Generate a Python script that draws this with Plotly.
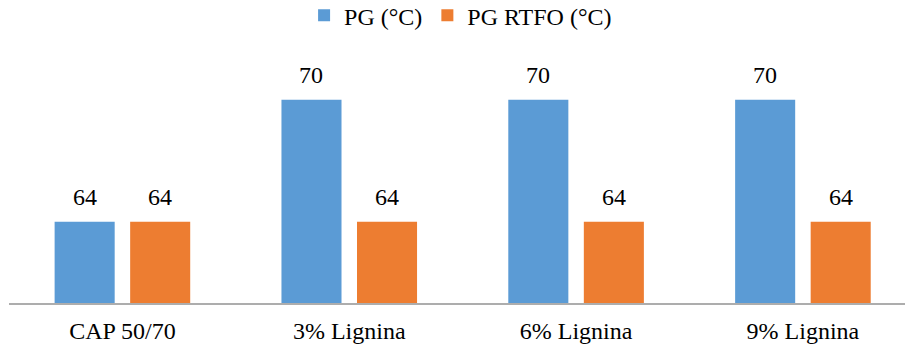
import plotly.graph_objects as go

# Performance grade of the binders
categories = ["CAP 50/70", "3% Lignina", "6% Lignina", "9% Lignina"]
pg_values = [64, 70, 70, 70]
pg_rtfo_values = [64, 64, 64, 64]
series_names = ["PG (°C)", "PG RTFO (°C)"]

FONT = "Liberation Serif, Times New Roman, serif"
colors = ["#5B9BD5", "#ED7D31"]
series = [pg_values, pg_rtfo_values]

fig = go.Figure()
for name, vals, col in zip(series_names, series, colors):
    fig.add_trace(go.Bar(
        x=categories, y=vals, name=name,
        marker=dict(color=col, line=dict(width=0)),
    ))

# value labels above each bar
bargap, groupgap = 0.334, 0.205
slot = (1 - bargap) / len(series)
for k, vals in enumerate(series):
    off = -(1 - bargap) / 2 + slot * (k + 0.5)
    for i, v in enumerate(vals):
        fig.add_annotation(
            x=i + off, y=v, xref="x", yref="y",
            text=str(v), showarrow=False,
            yanchor="bottom", yshift=10,
            font=dict(family=FONT, size=24, color="#000000"),
        )

fig.update_layout(
    width=905, height=349,
    margin=dict(l=9, r=0, t=59, b=46, autoexpand=False),
    paper_bgcolor="white", plot_bgcolor="white",
    barmode="group", bargap=bargap, bargroupgap=groupgap,
    font=dict(family=FONT, size=24, color="#000000"),
    showlegend=True,
    legend=dict(
        orientation="h", x=0.504, xanchor="center",
        yref="container", y=0.955, yanchor="middle",
        font=dict(family=FONT, size=24, color="#000000"),
        bgcolor="rgba(0,0,0,0)",
    ),
    xaxis=dict(
        type="category", range=[-0.5, 3.45],
        showline=True, linecolor="#ADADAD", linewidth=2,
        showgrid=False, ticks="", zeroline=False,
        ticklabelstandoff=5,
        tickfont=dict(family=FONT, size=24, color="#000000"),
    ),
    yaxis=dict(range=[60, 72], visible=False, showgrid=False),
)

fig.write_html("out.html")
